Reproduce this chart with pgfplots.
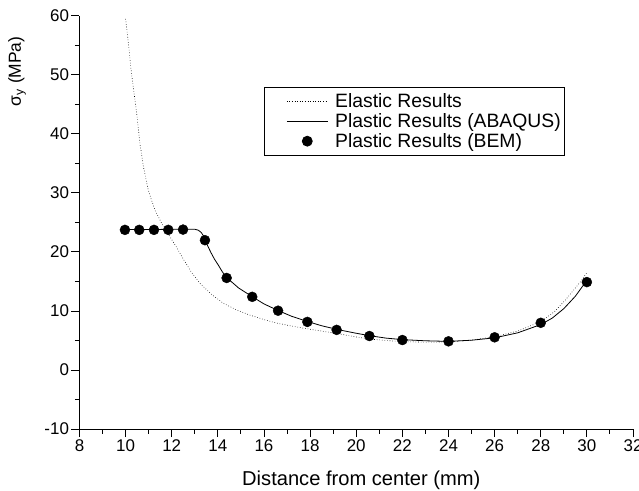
\documentclass[border=0pt]{standalone}
\usepackage{fontspec}
\setmainfont{Liberation Sans}
\usepackage{pgfplots}
\pgfplotsset{compat=1.18}
\pgfplotsset{
  lineleg/.style={legend image code/.code={\path (-19bp,0bp); \draw[##1] (0bp,0bp) -- (41bp,0bp);}},
  markleg/.style={legend image code/.code={\path (-19bp,0bp); \draw[##1,mark repeat=2,mark phase=2] plot coordinates {(0bp,0bp) (20.5bp,0bp) (41bp,0bp)};}},
}
\begin{document}
\begin{tikzpicture}
\begin{axis}[
  scale only axis,
  width=553.5bp, height=413bp,
  xmin=8, xmax=32, ymin=-10, ymax=60,
  axis x line*=bottom, axis y line*=left,
  axis line style={line width=1bp},
  xtick={8,10,...,32}, ytick={-10,0,...,60},
  minor x tick num=1, minor y tick num=1,
  tick align=outside,
  major tick length=8bp, minor tick length=4.5bp,
  every tick/.style={black, line width=1bp},
  /pgf/number format/assume math mode=true,
  tick label style={font=\fontsize{17}{19}\selectfont},
  yticklabel style={xshift=1bp},
  xticklabel style={yshift=1bp},
  xlabel={Distance from center (mm)},
  ylabel={σ\textsubscript{y} (MPa)},
  every axis x label/.style={at={(rel axis cs:0.5091,-0.1235)}, anchor=center, font=\fontsize{20.2}{23}\selectfont},
  every axis y label/.style={at={(rel axis cs:-0.1129,0.866)}, anchor=center, rotate=90, font=\fontsize{17.5}{20}\selectfont},
  legend style={at={(rel axis cs:0.3333,0.828)}, anchor=north west,
    font=\fontsize{19.4}{21}\selectfont, draw=black, line width=0.8bp,
    inner xsep=3bp, inner ysep=5bp, row sep=2.5bp, column sep=6bp,
    nodes={inner sep=1bp}},
  legend cell align=left,
]
\addplot[black, line width=0.6bp, dotted, lineleg]
  coordinates {
  (10.00,59.5) (10.12,55.4) (10.22,51.4) (10.33,48.0) (10.48,43.5)
  (10.62,38.4) (10.77,34.5) (10.98,30.5) (11.27,27.1) (11.56,24.9)
  (11.92,22.6) (12.24,20.6) (12.5,18.8) (12.85,16.6) (13.22,14.7)
  (13.7,12.9) (14.24,11.3) (14.8,10.2) (15.39,9.3) (16.0,8.55)
  (16.55,7.95) (17.2,7.45) (17.85,7.0) (18.5,6.6) (19.15,6.2)
  (19.85,5.7) (20.57,5.25) (21.3,5.0) (22,4.8) (23,4.72) (24,4.75)
  (25,5.05) (26,5.65) (27,6.6) (28,8.2) (28.6,9.9) (29.1,12.0)
  (29.5,13.9) (29.78,15.25) (30,16.5)
  };
\addlegendentry{Elastic Results}
\addplot[black, line width=0.8bp, lineleg]
  coordinates {
  (10,23.8) (12.5,23.85) (13.0,23.85) (13.15,23.7) (13.28,23.3)
  (13.38,22.7) (13.45,22.0) (13.55,21.1) (13.7,19.9) (13.85,18.8)
  (14.0,17.9) (14.2,16.6) (14.4,15.6) (14.9,13.9) (15.5,12.4)
  (16.0,11.2) (16.6,10.1) (17.2,9.1) (17.9,8.2) (18.5,7.5) (19.2,6.85)
  (19.9,6.3) (20.6,5.8) (21.3,5.4) (22,5.15) (23,4.95) (24,4.85)
  (25,5.05) (26,5.45) (27,6.3) (28,7.7) (28.5,8.8) (29,10.4)
  (29.5,12.5) (30,15.2)
  };
\addlegendentry{Plastic Results (ABAQUS)}
\addplot[black, only marks, mark=*, mark size=5bp, markleg]
  coordinates {
  (9.97,23.75) (10.59,23.75) (11.23,23.75) (11.85,23.75) (12.49,23.8)
  (13.44,22.0) (14.38,15.6) (15.49,12.4) (16.61,10.05) (17.88,8.15)
  (19.15,6.8) (20.57,5.76) (22.0,5.08) (24.0,4.86) (26.0,5.54)
  (28.0,8.0) (30.0,14.9)
  };
\addlegendentry{Plastic Results (BEM)}
\end{axis}
\pgfresetboundingbox
\path[use as bounding box] ([xshift=-79.5bp,yshift=-62bp]current axis.south west) rectangle ([xshift=6bp,yshift=16bp]current axis.north east);
\end{tikzpicture}
\end{document}
